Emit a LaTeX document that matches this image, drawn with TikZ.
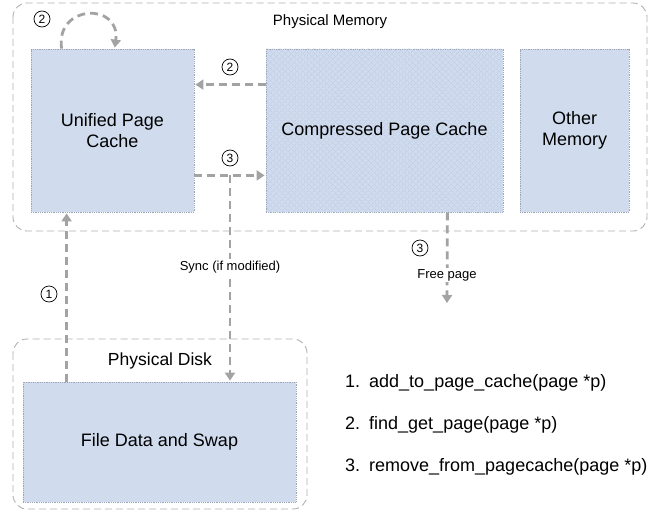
\documentclass[tikz,border=0pt]{standalone}
\usepackage{fontspec}
\setmainfont{Liberation Sans}
\usetikzlibrary{arrows.meta,patterns.meta,positioning}

\definecolor{boxblue}{HTML}{D0DCEE}
\definecolor{hatchblue}{HTML}{B9C9E3}
\definecolor{boxedge}{HTML}{9CA6B6}
\definecolor{flowgray}{HTML}{A3A3A3}
\definecolor{framegray}{HTML}{B0B0B0}

\tikzset{
  frame/.style={draw=framegray, line width=0.9pt, dash pattern=on 7pt off 4pt, rounded corners=14pt},
  membox/.style={draw=boxedge, line width=0.8pt, densely dotted, fill=boxblue,
    inner sep=0pt, align=center, font=\fontsize{18}{21}\selectfont},
  hatched/.style={
    postaction={pattern={Lines[angle=45,distance=4.2pt,line width=0.5pt]}, pattern color=hatchblue},
    postaction={pattern={Lines[angle=-45,distance=4.2pt,line width=0.5pt]}, pattern color=hatchblue}},
  flow/.style={draw=flowgray, line width=2.8pt, dash pattern=on 8pt off 5pt,
    -{Triangle[length=8pt,width=10pt]}, shorten >=1pt},
  numcirc/.style={circle, draw=black, line width=0.7pt, inner sep=0pt, minimum size=16pt,
    font=\fontsize{12}{12}\selectfont},
  flowlabel/.style={fill=white, inner sep=1.5pt, font=\fontsize{13}{15}\selectfont},
  listitem/.style={anchor=west, inner sep=0pt, font=\fontsize{18}{21}\selectfont}
}

\begin{document}
\begin{tikzpicture}[x=1pt,y=-1pt]
\useasboundingbox (0,0) rectangle (655,511);

% containers
\draw[frame] (13,3) rectangle (647,231);
\node[font=\fontsize{15}{18}\selectfont] (memlabel) at (330,22) {Physical Memory};
\draw[frame] (13,339) rectangle (307,509);
\node[font=\fontsize{17.5}{20}\selectfont] (disklabel) at (160,361) {Physical Disk};

% memory regions
\node[membox, minimum width=163pt, minimum height=163pt] (upc) at (112.5,130.5) {Unified Page\\Cache};
\node[membox, hatched, minimum width=237pt, minimum height=163pt] (cpc) at (384.5,130.5) {Compressed Page Cache};
\node[membox, minimum width=109pt, minimum height=163pt] (other) at (574.5,130.5) {Other\\Memory};
\node[membox, minimum width=273pt, minimum height=120pt] (fds) at (159.5,442) {File Data and Swap};

% page lookup in the unified cache
\draw[flow] ([xshift=31pt]upc.north west) .. controls (55,4) and (121,2) .. ([xshift=84pt]upc.north west);
\node[numcirc] (n2a) at (42,19) {2};

% compressed cache -> unified cache
\draw[flow] ([yshift=-36pt]cpc.north west) -- ([yshift=-36pt]upc.north east);
\node[numcirc] (n2b) at (230,67) {2};

% unified cache -> compressed cache
\draw[flow] ([yshift=37pt]upc.south east) -- ([yshift=37pt]cpc.south west);
\node[numcirc] (n3a) at (230,158) {3};

% write back to disk
\coordinate (syncstart) at (230,175);
\draw[flow] (syncstart) -- (syncstart |- fds.north);
\node[flowlabel] (synclabel) at (230,267) {Sync (if modified)};

% read from disk
\draw[flow] ([xshift=44pt]fds.north west) -- ([xshift=36pt]upc.south west);
\node[numcirc] (n1) at (49,294) {1};

% freeing a compressed page
\coordinate (freeend) at (447,304);
\draw[flow] ([xshift=-56pt]cpc.south east) -- (freeend);
\node[numcirc] (n3b) at (420,248) {3};
\node[flowlabel] (freelabel) at (447,275) {Free page};

% legend
\node[listitem] (l1) at (345,383) {\makebox[24pt][l]{1.}add\_to\_page\_cache(page *p)};
\node[listitem] (l2) at (345,425) {\makebox[24pt][l]{2.}find\_get\_page(page *p)};
\node[listitem] (l3) at (345,467) {\makebox[24pt][l]{3.}remove\_from\_pagecache(page *p)};
\end{tikzpicture}
\end{document}
